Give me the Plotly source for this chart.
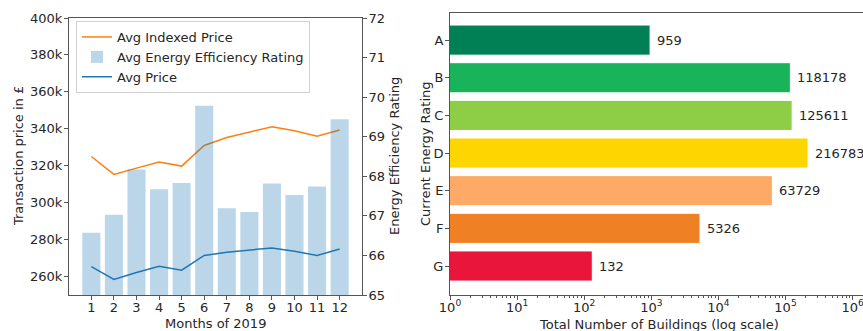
import math
import plotly.graph_objects as go

# ---------------- data ----------------
months = list(range(1, 13))
avg_price = [265400, 258400, 262200, 265600, 263400, 271400, 273200, 274400, 275500, 273700, 271400, 274900]
avg_indexed_price = [325000, 315300, 318700, 322000, 319800, 331000, 335300, 338400, 341100, 338900, 336000, 339300]
avg_eer = [66.57, 67.03, 68.17, 67.67, 67.83, 69.78, 67.19, 67.10, 67.82, 67.53, 67.74, 69.44]

price_tickvals = [260000, 280000, 300000, 320000, 340000, 360000, 380000, 400000]
price_ticktext = ["260k", "280k", "300k", "320k", "340k", "360k", "380k", "400k"]
eer_tickvals = [65, 66, 67, 68, 69, 70, 71, 72]

ratings = ["A", "B", "C", "D", "E", "F", "G"]
buildings = [959, 118178, 125611, 216783, 63729, 5326, 132]
rating_colors = ["#008054", "#19b459", "#8dce46", "#ffd500", "#fcaa65", "#ef8023", "#e9153b"]

log_tickvals = [1, 10, 100, 1000, 10000, 100000, 1000000]
log_ticktext = ["10<sup>0</sup>", "10<sup>1</sup>", "10<sup>2</sup>", "10<sup>3</sup>",
                "10<sup>4</sup>", "10<sup>5</sup>", "10<sup>6</sup>"]

FONT = "DejaVu Sans"
TXT = "#262626"
LINE = "#555555"
W, H = 863, 331

fig = go.Figure()

fig.add_trace(go.Scatter(x=months, y=avg_indexed_price, mode="lines", name="Avg Indexed Price",
                         line=dict(color="#ff7f0e", width=1.5), xaxis="x", yaxis="y", legendrank=1))
fig.add_trace(go.Scatter(x=months, y=avg_price, mode="lines", name="Avg Price",
                         line=dict(color="#1f77b4", width=1.5), xaxis="x", yaxis="y", legendrank=3))
fig.add_trace(go.Bar(x=months, y=avg_eer, name="Avg Energy Efficiency Rating", width=0.8,
                     marker=dict(color="rgba(31,119,180,0.3)", line=dict(width=0)),
                     base=0, xaxis="x", yaxis="y2", legendrank=2))

fig.add_trace(go.Bar(y=ratings, x=buildings, orientation="h", width=0.8,
                     marker=dict(color=rating_colors, line=dict(color="white", width=1)),
                     xaxis="x2", yaxis="y3", showlegend=False))

# value labels next to the bars (values taken from the data arrays; log axis -> log10 position)
for r, v in zip(ratings, buildings):
    fig.add_annotation(x=math.log10(v), y=r, xref="x2", yref="y3", text=str(v), showarrow=False,
                       xanchor="left", yanchor="middle", xshift=5,
                       font=dict(family="DejaVu Sans", size=13, color="#262626"))

def px_x(p):
    return p / W

def px_y(p):
    return 1 - p / H

tickfont = dict(family=FONT, size=13, color=TXT)

fig.update_layout(
    width=W, height=H,
    margin=dict(l=0, r=0, t=0, b=0),
    paper_bgcolor="white", plot_bgcolor="rgba(0,0,0,0)",
    font=dict(family=FONT, size=13, color=TXT),
    barmode="overlay",
    xaxis=dict(domain=[px_x(69), px_x(362)], range=[0.01, 12.99], tickvals=months,
               ticks="outside", ticklen=4, tickcolor=LINE, showline=True, linecolor=LINE,
               mirror=True, showgrid=False, zeroline=False, tickfont=tickfont, automargin=False,
               ticklabelstandoff=-4),
    yaxis=dict(domain=[px_y(295), px_y(18)], range=[250000, 400000], tickvals=price_tickvals,
               ticktext=price_ticktext, ticks="outside", ticklen=4, tickcolor=LINE,
               showline=True, linecolor=LINE, showgrid=False, zeroline=False,
               tickfont=tickfont, automargin=False, ticklabelstandoff=-1),
    yaxis2=dict(overlaying="y", side="right", anchor="x", range=[65, 72], tickvals=eer_tickvals,
                ticks="outside", ticklen=4, tickcolor=LINE, showline=True, linecolor=LINE,
                showgrid=False, zeroline=False, tickfont=tickfont, automargin=False,
                ticklabelstandoff=-1),
    xaxis2=dict(domain=[px_x(450), 1.0], type="log", range=[0, 6.155], anchor="y3",
                tickvals=log_tickvals, ticktext=log_ticktext, ticks="outside", ticklen=4,
                tickcolor=LINE, showline=True, linecolor=LINE, mirror=True, showgrid=False,
                zeroline=False, tickfont=tickfont, automargin=False, ticklabelstandoff=-4,
                ticklabeloverflow="allow",
                minor=dict(ticks="outside", ticklen=2, tickcolor=LINE, dtick="D1", showgrid=False)),
    yaxis3=dict(domain=[px_y(295), px_y(13)], anchor="x2", type="category",
                categoryorder="array", categoryarray=ratings, range=[6.77, -0.72],
                ticks="outside", ticklen=4, tickcolor=LINE, showline=True, linecolor=LINE,
                mirror=True, showgrid=False, zeroline=False, tickfont=tickfont, automargin=False,
                ticklabelstandoff=-1),
    legend=dict(x=px_x(76), y=px_y(21), xanchor="left", yanchor="top",
                bgcolor="white", bordercolor="#d0d0d0", borderwidth=1,
                font=dict(family=FONT, size=13, color=TXT), tracegroupgap=0,
                itemwidth=30),
    showlegend=True,
)

annots = [
    dict(text="Transaction price in £", x=px_x(18), y=px_y(156), textangle=-90),
    dict(text="Energy Efficiency Rating", x=px_x(394), y=px_y(156), textangle=-90),
    dict(text="Current Energy Rating", x=px_x(425), y=px_y(154), textangle=-90),
    dict(text="Months of 2019", x=px_x(215), y=px_y(323), textangle=0),
    dict(text="Total Number of Buildings (log scale)", x=px_x(659), y=px_y(324), textangle=0),
]
for a in annots:
    fig.add_annotation(xref="paper", yref="paper", showarrow=False, xanchor="center",
                       yanchor="middle", font=dict(family=FONT, size=13, color=TXT), **a)

fig.write_html("out.html", config={"displayModeBar": False},
               post_script="document.body.style.margin='0';document.body.style.overflow='hidden';")
